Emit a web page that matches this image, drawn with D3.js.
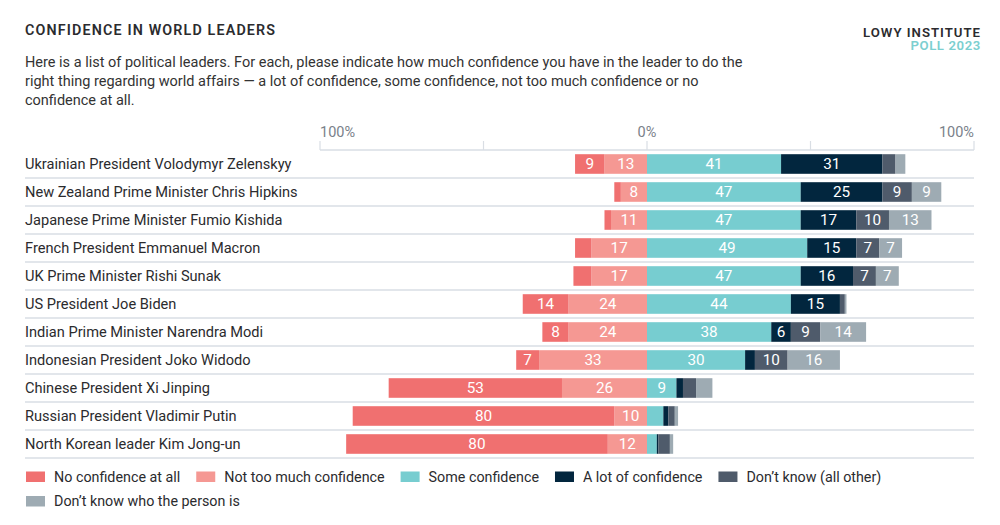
<!DOCTYPE html>
<html>
<head>
<meta charset="utf-8">
<script src="https://cdn.jsdelivr.net/npm/d3@7/dist/d3.min.js"></script>
<style>
  html, body { margin: 0; padding: 0; background: #fff; }
  svg { display: block; font-family: Roboto, "Noto Sans", sans-serif; }
</style>
</head>
<body>
<svg id="chart" width="1000" height="525"></svg>
<script>
// ---- Data ----
const leaders = [
  "Ukrainian President Volodymyr Zelenskyy",
  "New Zealand Prime Minister Chris Hipkins",
  "Japanese Prime Minister Fumio Kishida",
  "French President Emmanuel Macron",
  "UK Prime Minister Rishi Sunak",
  "US President Joe Biden",
  "Indian Prime Minister Narendra Modi",
  "Indonesian President Joko Widodo",
  "Chinese President Xi Jinping",
  "Russian President Vladimir Putin",
  "North Korean leader Kim Jong-un"
];
const seriesNames = [
  "No confidence at all",
  "Not too much confidence",
  "Some confidence",
  "A lot of confidence",
  "Don\u2019t know (all other)",
  "Don\u2019t know who the person is"
];
const noConfidence   = [9, 2, 2, 5, 5.5, 14, 8, 7, 53, 80, 80];
const notTooMuch     = [13, 8, 11, 17, 17, 24, 24, 33, 26, 10, 12];
const someConfidence = [41, 47, 47, 49, 47, 44, 38, 30, 9, 5, 3];
const aLot           = [31, 25, 17, 15, 16, 15, 6, 3, 2, 1.5, 0.5];
const dontKnowOther  = [4, 9, 10, 7, 7, 1.5, 9, 10, 4, 2, 3.5];
const dontKnowWho    = [3, 9, 13, 7, 7, 0.5, 14, 16, 5, 1, 1];
const tickValues = [-100, -50, 0, 50, 100];
const tickLabels = ["100%", "", "0%", "", "100%"];
const colors = ["#f07070", "#f59893", "#77cdd0", "#02263e", "#4f5b6b", "#9eabb3"];

// ---- Layout ----
const svg = d3.select("#chart");
const x = d3.scaleLinear().domain([-100, 100]).range([320, 974]);
const y = d3.scaleBand().domain(leaders).range([150, 458]);
const gridColor = "#d9dee4";

// Title block
svg.append("text").attr("x", 25).attr("y", 35)
  .attr("font-size", 14.3).attr("font-weight", 600).attr("letter-spacing", 1.15)
  .attr("fill", "#2b2b2e").text("CONFIDENCE IN WORLD LEADERS");
svg.append("text").attr("x", 981).attr("y", 37).attr("text-anchor", "end")
  .attr("font-size", 13.2).attr("font-weight", 600).attr("letter-spacing", 1.0)
  .attr("fill", "#2b2b2e").text("LOWY INSTITUTE");
svg.append("text").attr("x", 981).attr("y", 50).attr("text-anchor", "end")
  .attr("font-size", 13.2).attr("font-weight", 600).attr("letter-spacing", 0.6)
  .attr("fill", "#7ccfd0").text("POLL 2023");

const subtitle = [
  "Here is a list of political leaders. For each, please indicate how much confidence you have in the leader to do the",
  "right thing regarding world affairs \u2014 a lot of confidence, some confidence, not too much confidence or no",
  "confidence at all."
];
svg.append("g").selectAll("text").data(subtitle).join("text")
  .attr("x", 25).attr("y", (d, i) => 67 + i * 19)
  .attr("font-size", 14.5).attr("fill", "#333").text(d => d);

// Axis ticks and labels
const axisG = svg.append("g");
axisG.append("line").attr("x1", x(-100)).attr("x2", x(100))
  .attr("y1", 150).attr("y2", 150).attr("stroke", gridColor).attr("stroke-width", 1.5);
axisG.selectAll("line.tick").data(tickValues).join("line").attr("class", "tick")
  .attr("x1", d => x(d)).attr("x2", d => x(d)).attr("y1", 141).attr("y2", 150)
  .attr("stroke", gridColor).attr("stroke-width", 1.2);
axisG.selectAll("text").data(tickValues).join("text")
  .attr("x", d => x(d)).attr("y", 137)
  .attr("text-anchor", (d, i) => i === 0 ? "start" : (i === tickValues.length - 1 ? "end" : "middle"))
  .attr("font-size", 14.5).attr("fill", "#7a818a")
  .text((d, i) => tickLabels[i]);

// Row separators
svg.append("g").selectAll("line").data(leaders).join("line")
  .attr("x1", 25).attr("x2", x(100))
  .attr("y1", d => y(d) + y.bandwidth()).attr("y2", d => y(d) + y.bandwidth())
  .attr("stroke", gridColor).attr("stroke-width", 1.5);

// Row labels
svg.append("g").selectAll("text").data(leaders).join("text")
  .attr("x", 25).attr("y", d => y(d) + y.bandwidth() / 2 + 5)
  .attr("font-size", 14.6).attr("fill", "#2b2b2e").text(d => d);

// Build segments
const seriesValues = [noConfidence, notTooMuch, someConfidence, aLot, dontKnowOther, dontKnowWho];
const segments = [];
leaders.forEach((name, i) => {
  let left = 0;
  [1, 0].forEach(s => {
    const v = seriesValues[s][i];
    segments.push({ name, s, v, x0: left - v, x1: left });
    left -= v;
  });
  let right = 0;
  [2, 3, 4, 5].forEach(s => {
    const v = seriesValues[s][i];
    segments.push({ name, s, v, x0: right, x1: right + v });
    right += v;
  });
});

const barG = svg.append("g");
barG.selectAll("rect").data(segments).join("rect")
  .attr("x", d => x(d.x0)).attr("width", d => x(d.x1) - x(d.x0))
  .attr("y", d => y(d.name) + 4.2).attr("height", 19.6)
  .attr("fill", d => colors[d.s]);
barG.selectAll("text").data(segments.filter(d => d.v >= 6)).join("text")
  .attr("x", d => (x(d.x0) + x(d.x1)) / 2)
  .attr("y", d => y(d.name) + 4.2 + 9.8 + 5.4)
  .attr("text-anchor", "middle").attr("font-size", 15.3).attr("fill", "#fff")
  .text(d => Math.round(d.v));

// Legend (flow layout)
const legendG = svg.append("g");
let lx = 26, ly = 471.5;
const maxX = 975;
seriesNames.forEach((name, i) => {
  const t = legendG.append("text").attr("font-size", 14.3).attr("fill", "#2b2b2e").text(name);
  const w = t.node().getComputedTextLength();
  if (lx + 28 + w > maxX) { lx = 26; ly += 24.5; }
  legendG.append("rect").attr("x", lx).attr("y", ly).attr("width", 19).attr("height", 10.5)
    .attr("fill", colors[i]);
  t.attr("x", lx + 28).attr("y", ly + 10);
  lx += 28 + w + 16;
});
</script>
</body>
</html>
